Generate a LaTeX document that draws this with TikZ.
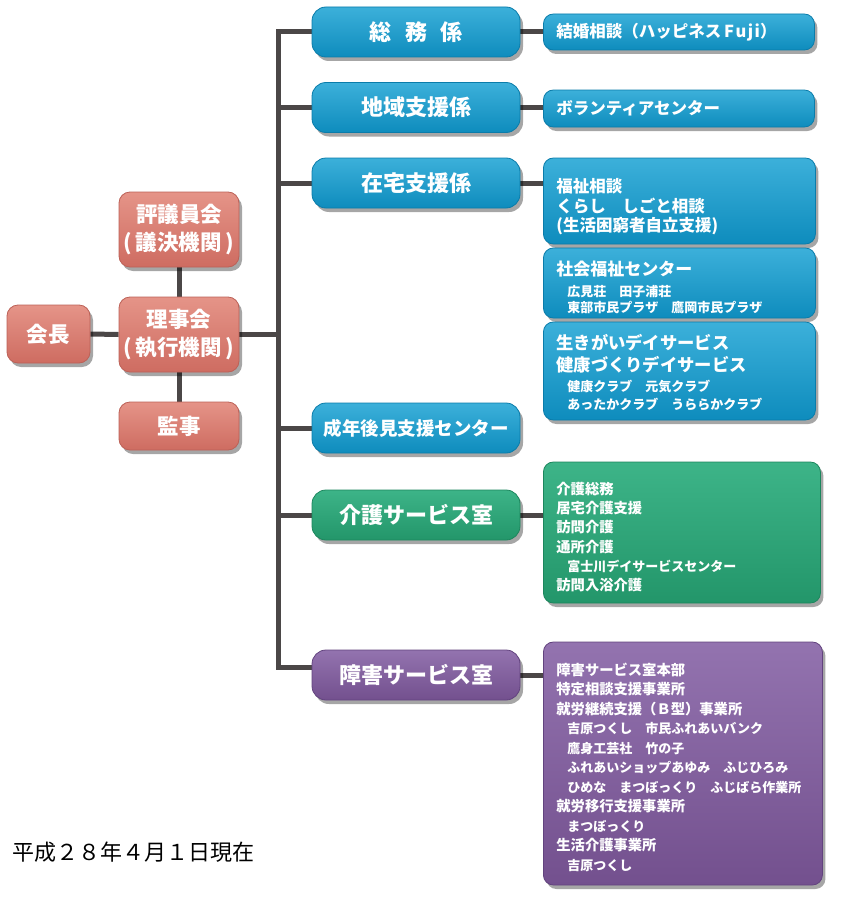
\documentclass[tikz,border=0pt]{standalone}
\usepackage{fontspec}
\setmainfont{Noto Sans CJK JP}
\usetikzlibrary{shadows}
\pgfdeclarelayer{bg}
\pgfsetlayers{bg,main}
\definecolor{salTop}{HTML}{E59488}
\definecolor{salBot}{HTML}{CE6C61}
\definecolor{salEdge}{HTML}{BC6157}
\definecolor{bluTop}{HTML}{3CB0DA}
\definecolor{bluBot}{HTML}{0E8CBD}
\definecolor{bluEdge}{HTML}{0A7CAA}
\definecolor{grnTop}{HTML}{3DB488}
\definecolor{grnBot}{HTML}{23966A}
\definecolor{grnEdge}{HTML}{1C865D}
\definecolor{purTop}{HTML}{9373AF}
\definecolor{purBot}{HTML}{73508E}
\definecolor{purEdge}{HTML}{62437E}
\definecolor{connCol}{HTML}{4B4747}
\newcommand\mysub{\fontsize{13}{19.5}\selectfont}
\newcommand\myind{\hspace*{11pt}}
\newcommand\mystrut[1]{\rule{0pt}{#1}}
\tikzset{
  shad/.style={drop shadow={shadow xshift=3pt, shadow yshift=-4pt, opacity=0.35, fill=black}},
  sbox/.style={shape=rectangle, rounded corners=11pt, top color=salTop, bottom color=salBot,
    draw=salEdge, line width=0.8pt, text=white, align=center, inner sep=0pt, shad,
    font=\bfseries\fontsize{21.5}{28}\selectfont},
  lbox/.style={shape=rectangle, rounded corners=14pt, draw=#1Edge, top color=#1Top, bottom color=#1Bot,
    line width=0.8pt, text=white, minimum width=208pt, minimum height=50pt, inner sep=0pt, shad,
    font=\bfseries\fontsize{22}{24}\selectfont},
  rbox/.style={shape=rectangle, rounded corners=10pt, draw=#1Edge, top color=#1Top, bottom color=#1Bot,
    line width=0.8pt, text=white, anchor=west, align=left, inner xsep=13pt, inner ysep=0pt, shad,
    font=\bfseries\fontsize{16.5}{19.5}\selectfont},
  conn/.style={draw=connCol, line width=5pt},
}
\begin{document}
\begin{tikzpicture}[x=1pt,y=-1pt]
\useasboundingbox (0,0) rectangle (843,907);
% left group
\node[sbox, minimum width=83pt, minimum height=58pt] (kaicho) at (48.5,334) {会長};
\node[sbox, minimum width=120pt, minimum height=75pt] (hyogi) at (179,229.5) {評議員会\\(\,議決機関\,)};
\node[sbox, minimum width=120pt, minimum height=75pt] (riji) at (179,334.5) {理事会\\(\,執行機関\,)};
\node[sbox, minimum width=120pt, minimum height=48pt] (kanji) at (179,426) {監事};
% level 2
\node[lbox=blu] (s1) at (416,32) {総\hspace{0.6em}務\hspace{0.6em}係};
\node[lbox=blu] (s2) at (416,107.5) {地域支援係};
\node[lbox=blu] (s3) at (416,183) {在宅支援係};
\node[lbox=blu, font=\bfseries\fontsize{18.5}{22}\selectfont] (s4) at (416,428) {成年後見支援センター};
\node[lbox=grn] (s5) at (416,515) {介護サービス室};
\node[lbox=pur] (s6) at (416,675) {障害サービス室};
% right boxes
\node[rbox=blu, text width=245pt, minimum height=36pt] (r1) at (543,32) {結婚相談（ハッピネス\,F\kern1.5pt u\kern1.5pt j\kern1.5pt i）};
\node[rbox=blu, text width=245pt, minimum height=37pt] (r2) at (543,108.5) {ボランティアセンター};
\node[rbox=blu, text width=246pt, minimum height=86pt] (r3) at (543,201) {\mystrut{26pt}福祉相談\\くらし　しごと相談\\(生活困窮者自立支援)};
\node[rbox=blu, text width=246pt, minimum height=70pt, font=\bfseries\fontsize{17}{15.5}\selectfont] (r4) at (543,283)
  {\mystrut{23pt}社会福祉センター\\[6pt]{\mysub\myind 広見荘　田子浦荘}\\{\mysub\myind 東部市民プラザ　鷹岡市民プラザ}};
\node[rbox=blu, text width=246pt, minimum height=98pt, font=\bfseries\fontsize{17.3}{18}\selectfont] (r5) at (543,371)
  {\mystrut{18pt}生きがいデイサービス\\[4pt]健康づくりデイサービス\\[2pt]{\mysub\myind 健康クラブ　元気クラブ}\\{\mysub\myind あったかクラブ　うららかクラブ}};
\node[rbox=grn, text width=251pt, minimum height=141pt, font=\bfseries\fontsize{14.3}{19.3}\selectfont] (r6) at (543,532.5)
  {\mystrut{21.5pt}介護総務\\居宅介護支援\\訪問介護\\通所介護\\{\mysub\myind 富士川デイサービスセンター}\\訪問入浴介護};
\node[rbox=pur, text width=253pt, minimum height=243pt, font=\bfseries\fontsize{14.3}{19.5}\selectfont] (r7) at (543,763.5)
  {\mystrut{20pt}障害サービス室本部\\特定相談支援事業所\\就労継続支援（Ｂ型）事業所\\{\mysub\myind 吉原つくし　市民ふれあいバンク}\\{\mysub\myind 鷹身工芸社　竹の子}\\{\mysub\myind ふれあいショップあゆみ　ふじひろみ}\\{\mysub\myind ひめな　まつぼっくり　ふじばら作業所}\\就労移行支援事業所\\{\mysub\myind まつぼっくり}\\生活介護事業所\\{\mysub\myind 吉原つくし}};
% date
\node[anchor=west, inner sep=0pt, font=\fontsize{22}{24}\selectfont] (date) at (12,852) {平成２８年４月１日現在};
% connectors
\begin{pgfonlayer}{bg}
\coordinate (ttop) at (278,32);
\coordinate (tbot) at (278,667);
\draw[conn] (s1.west) -- (ttop) -- (tbot) -- (tbot -| s6.west);
\draw[conn] (s2.west) -- (s2.west -| ttop);
\draw[conn] (s3.west) -- (s3.west -| ttop);
\draw[conn] (s4.west) -- (s4.west -| ttop);
\draw[conn] (s5.west) -- (s5.west -| ttop);
\draw[conn] (riji.east) -- (riji.east -| ttop);
\draw[conn] (kaicho.east) -- (riji.west);
\draw[conn] (hyogi.south) -- (riji.north);
\draw[conn] (riji.south) -- (kanji.north);
\draw[conn] (s1.east) -- (r1.west);
\draw[conn] (s2.east) -- (s2.east -| r2.west);
\draw[conn] (s3.east) -- (s3.east -| r3.west);
\draw[conn] (s5.east) -- (s5.east -| r6.west);
\draw[conn] (s6.east) -- (s6.east -| r7.west);
\end{pgfonlayer}
\end{tikzpicture}
\end{document}
